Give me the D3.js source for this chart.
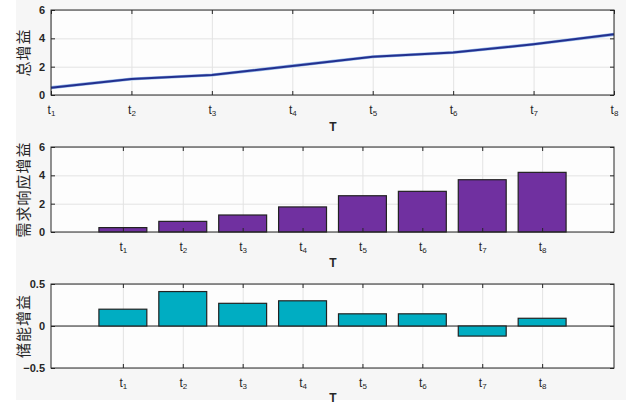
<!DOCTYPE html>
<html>
<head>
<meta charset="utf-8">
<script src="https://cdn.jsdelivr.net/npm/d3@7"></script>
<style>
  body { margin: 0; background: #fff; }
  svg { display: block; }
  .tick text { font-family: "Liberation Sans", Arial, sans-serif; font-weight: bold; font-size: 11px; fill: #262626; }
  .xax .tick text { font-weight: normal; font-size: 12px; }
  .grid line { stroke: #e3e3e3; }
  .grid .domain { display: none; }
</style>
</head>
<body>
<svg id="chart"></svg>
<script>
// time periods t1..t8
var periods = [1, 2, 3, 4, 5, 6, 7, 8];
var totalGain = [0.52, 1.13, 1.41, 2.05, 2.70, 3.00, 3.58, 4.28];
var demandGain = [0.31, 0.75, 1.20, 1.77, 2.56, 2.87, 3.69, 4.21];
var storageGain = [0.20, 0.41, 0.27, 0.30, 0.145, 0.145, -0.12, 0.092];
var yTitles = ["总增益", "需求响应增益", "储能增益"];
var yTicksTop = [0, 2, 4, 6],
    yTicksMid = [0, 2, 4, 6],
    yTicksBot = [-0.5, 0, 0.5];

var width = 626, height = 404,
    left = 51, right = 614;

var svg = d3.select("#chart").attr("width", width).attr("height", height);

// light grey figure background
svg.append("rect").attr("x", 16).attr("y", 0).attr("width", width - 16).attr("height", 400).attr("fill", "#f6f6f6");

function panel(cfg) {
  var g = svg.append("g");
  var x = cfg.x, y = cfg.y;
  var top = y.range()[1], bottom = y.range()[0];

  g.append("rect").attr("x", left).attr("y", top)
    .attr("width", right - left).attr("height", bottom - top).attr("fill", "#fdfdfd");

  // grid
  g.append("g").attr("class", "grid")
    .attr("transform", "translate(" + left + ",0)")
    .call(d3.axisLeft(y).tickValues(cfg.yTicks).tickSize(-(right - left)).tickFormat(""));
  g.append("g").attr("class", "grid")
    .attr("transform", "translate(0," + bottom + ")")
    .call(d3.axisBottom(x).tickValues(periods).tickSize(-(bottom - top)).tickFormat(""));

  cfg.draw(g);

  // axes
  var xa = g.append("g").attr("class", "xax").attr("transform", "translate(0," + bottom + ")")
    .call(d3.axisBottom(x).tickValues(periods).tickSizeInner(-4).tickSizeOuter(0).tickPadding(10));
  xa.selectAll(".tick text").text("t")
    .append("tspan").attr("dy", "0.35em").attr("font-size", "8px").text(function (d) { return d; });
  g.append("g").attr("transform", "translate(0," + top + ")")
    .call(d3.axisTop(x).tickValues(periods).tickSizeInner(-4).tickSizeOuter(0).tickFormat(""));
  g.append("g").attr("transform", "translate(" + left + ",0)")
    .call(d3.axisLeft(y).tickValues(cfg.yTicks).tickSizeInner(-4).tickSizeOuter(0).tickPadding(6)
      .tickFormat(cfg.yFormat));
  g.append("g").attr("transform", "translate(" + right + ",0)")
    .call(d3.axisRight(y).tickValues(cfg.yTicks).tickSizeInner(-4).tickSizeOuter(0).tickFormat(""));
  g.selectAll(".domain").attr("stroke", "none");
  g.selectAll(".tick line").filter(function () { return !this.closest(".grid"); }).attr("stroke", "#262626");

  g.append("rect").attr("x", left).attr("y", top)
    .attr("width", right - left).attr("height", bottom - top)
    .attr("fill", "none").attr("stroke", "#262626").attr("stroke-width", 1);

  g.append("text").attr("x", 333).attr("y", cfg.tY)
    .attr("text-anchor", "middle")
    .style("font-family", "Liberation Sans, Arial, sans-serif").style("font-weight", "bold")
    .style("font-size", "12px").attr("fill", "#262626").text("T");

  g.append("text")
    .attr("transform", "translate(29," + ((top + bottom) / 2) + ") rotate(-90)")
    .attr("text-anchor", "middle")
    .style("font-family", "Noto Sans CJK SC, sans-serif")
    .style("font-size", "15px").style("letter-spacing", "1px")
    .attr("fill", "#262626").text(cfg.title);
}

// top: total gain line
var xLine = d3.scaleLinear().domain([1, 8]).range([left, right]);
var yTop = d3.scaleLinear().domain([0, 6]).range([95, 10]);
panel({
  x: xLine, y: yTop,
  yTicks: yTicksTop, yFormat: d3.format("d"), tY: 131, title: yTitles[0],
  draw: function (g) {
    var line = d3.line().x(function (d, i) { return xLine(periods[i]); }).y(function (d) { return yTop(d); });
    g.append("path").datum(totalGain).attr("d", line)
      .attr("fill", "none").attr("stroke", "#8fb3e6").attr("stroke-width", 3.2);
    g.append("path").datum(totalGain).attr("d", line)
      .attr("fill", "none").attr("stroke", "#23308f").attr("stroke-width", 2);
  }
});

// middle: demand response bars
var xBar = d3.scaleLinear().domain([-0.2, 9.2]).range([left, right]);
var yMid = d3.scaleLinear().domain([0, 6]).range([232, 147]);
panel({
  x: xBar, y: yMid,
  yTicks: yTicksMid, yFormat: d3.format("d"), tY: 267, title: yTitles[1],
  draw: function (g) {
    g.selectAll("rect.bar").data(demandGain).enter().append("rect").attr("class", "bar")
      .attr("x", function (d, i) { return xBar(periods[i] - 0.4); })
      .attr("width", xBar(0.8) - xBar(0))
      .attr("y", function (d) { return yMid(d); })
      .attr("height", function (d) { return yMid(0) - yMid(d); })
      .attr("fill", "#7030a0").attr("stroke", "#222").attr("stroke-width", 1.2);
  }
});

// bottom: storage bars
var yBot = d3.scaleLinear().domain([-0.5, 0.5]).range([368, 284]);
panel({
  x: xBar, y: yBot,
  yTicks: yTicksBot, yFormat: function (d) { return d === 0 ? "0" : d3.format(".1f")(d); }, tY: 402, title: yTitles[2],
  draw: function (g) {
    g.append("line").attr("x1", left).attr("x2", right)
      .attr("y1", yBot(0)).attr("y2", yBot(0)).attr("stroke", "#262626");
    g.selectAll("rect.bar").data(storageGain).enter().append("rect").attr("class", "bar")
      .attr("x", function (d, i) { return xBar(periods[i] - 0.4); })
      .attr("width", xBar(0.8) - xBar(0))
      .attr("y", function (d) { return yBot(Math.max(d, 0)); })
      .attr("height", function (d) { return Math.abs(yBot(0) - yBot(d)); })
      .attr("fill", "#00adc2").attr("stroke", "#222").attr("stroke-width", 1.2);
  }
});
</script>
</body>
</html>
